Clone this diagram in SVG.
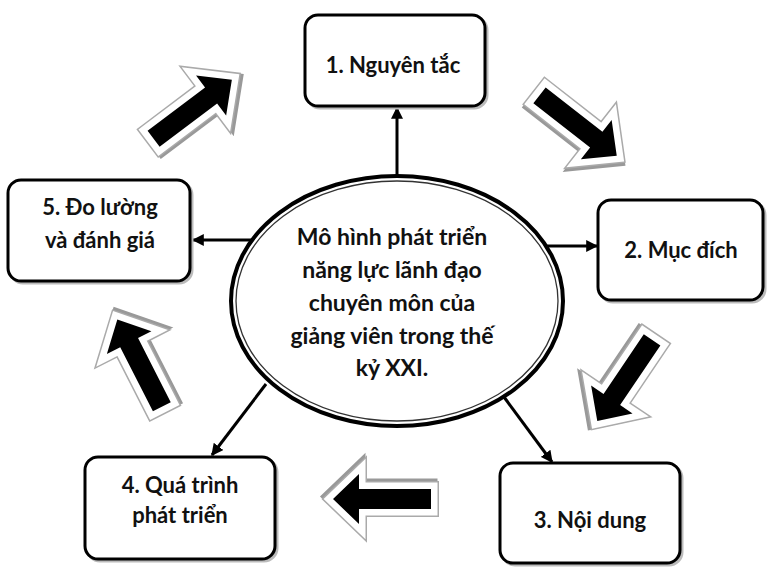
<svg xmlns="http://www.w3.org/2000/svg" xmlns:xlink="http://www.w3.org/1999/xlink" width="773" height="569" viewBox="0 0 773 569">
<style>
.box{fill:#fff;stroke:#000;stroke-width:3}
.shadow{fill:#bbb;stroke:#bbb;stroke-width:3}
.t{font-family:Lato,"Liberation Sans","DejaVu Sans",sans-serif;font-weight:bold;font-size:22px;fill:#111;text-anchor:middle}
.tc{font-size:23px}
.conn{stroke:#000;stroke-width:3;fill:none;marker-end:url(#ah)}
</style>
<defs>
<marker id="ah" viewBox="0 0 10 10" refX="9" refY="5" markerWidth="4" markerHeight="4" orient="auto" markerUnits="strokeWidth">
<path d="M0,0 L10,5 L0,10 Z" fill="#000"/>
</marker>
<path id="ba" d="M7,-10 L79,-10 L79,-25 L105,0 L79,25 L79,10 L7,10 Z"/>
<g id="block">
<use xlink:href="#ba" transform="translate(1.5,2.5)" fill="#999" stroke="#999" stroke-width="16" stroke-linejoin="miter"/>
<use xlink:href="#ba" fill="#aaa" stroke="#aaa" stroke-width="16" stroke-linejoin="miter"/>
<use xlink:href="#ba" fill="#fff" stroke="#fff" stroke-width="13" stroke-linejoin="miter"/>
<use xlink:href="#ba" fill="#000"/>
</g>
</defs>
<rect width="773" height="569" fill="#fff"/>

<g id="block-arrows">
<use xlink:href="#block" transform="translate(148,143) rotate(-37)"/>
<use xlink:href="#block" transform="translate(534,91) rotate(38)"/>
<use xlink:href="#block" transform="translate(656,334) rotate(124)"/>
<use xlink:href="#block" transform="translate(438,499) rotate(180)"/>
<use xlink:href="#block" transform="translate(165,413) rotate(-117)"/>
</g>

<g id="connectors">
<line class="conn" x1="397" y1="176" x2="397" y2="108"/>
<line class="conn" x1="254" y1="240" x2="193" y2="240"/>
<line class="conn" x1="546" y1="246" x2="597" y2="246"/>
<line class="conn" x1="266" y1="384" x2="212" y2="455"/>
<line class="conn" x1="504" y1="397" x2="552" y2="462"/>
</g>

<g id="center">
<ellipse cx="397" cy="301" rx="166" ry="125" fill="#fff" stroke="#000" stroke-width="4"/>
<ellipse cx="397" cy="301" rx="161" ry="120" fill="none" stroke="#333" stroke-width="1.3"/>
<text class="t tc"><tspan x="392" y="245">Mô hình phát triển</tspan><tspan x="392" y="278">năng lực lãnh đạo</tspan><tspan x="392" y="311">chuyên môn của</tspan><tspan x="392" y="344">giảng viên trong thế</tspan><tspan x="392" y="376">kỷ XXI.</tspan></text>
</g>

<g id="n1">
<rect class="shadow" x="307" y="17" width="180" height="91" rx="13"/>
<rect class="box" x="305" y="15" width="180" height="91" rx="13"/>
<text class="t" x="393" y="73">1. Nguyên tắc</text>
</g>

<g id="n2">
<rect class="shadow" x="600" y="202" width="165" height="100" rx="13"/>
<rect class="box" x="598" y="200" width="165" height="100" rx="13"/>
<text class="t" x="681" y="258">2. Mục đích</text>
</g>

<g id="n3">
<rect class="shadow" x="502" y="465" width="180" height="100" rx="13"/>
<rect class="box" x="500" y="463" width="180" height="100" rx="13"/>
<text class="t" x="590" y="528">3. Nội dung</text>
</g>

<g id="n4">
<rect class="shadow" x="87" y="459" width="190" height="102" rx="13"/>
<rect class="box" x="85" y="457" width="190" height="102" rx="13"/>
<text class="t"><tspan x="180" y="493">4. Quá trình</tspan><tspan x="180" y="523">phát triển</tspan></text>
</g>

<g id="n5">
<rect class="shadow" x="10" y="182" width="182" height="101" rx="13"/>
<rect class="box" x="8" y="180" width="182" height="101" rx="13"/>
<text class="t"><tspan x="100" y="215">5. Đo lường</tspan><tspan x="100" y="248">và đánh giá</tspan></text>
</g>
</svg>
